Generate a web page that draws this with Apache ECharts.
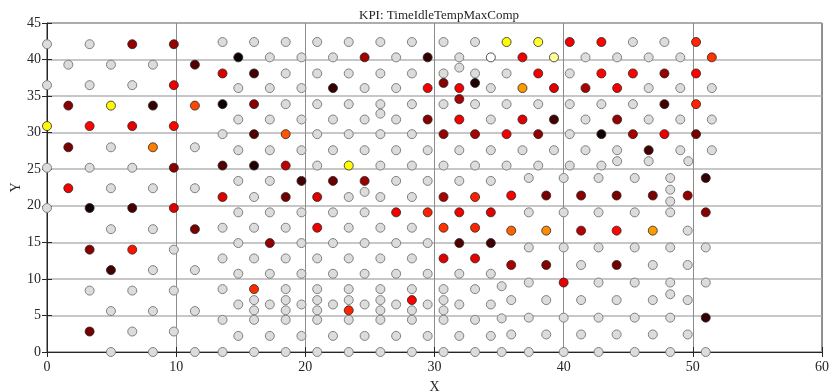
<!DOCTYPE html>
<html>
<head>
<meta charset="utf-8">
<title>KPI: TimeIdleTempMaxComp</title>
<script src="https://cdn.jsdelivr.net/npm/echarts@6.0.0/dist/echarts.min.js"></script>
<style>
  html, body { margin: 0; padding: 0; background: #fff; }
  #chart { width: 832px; height: 392px; }
</style>
</head>
<body>
<div id="chart"></div>
<script>
// grey points (no KPI value), listed per column: [x, [y, y, ...]]
var greyLeft = [
  [0, [42.1, 36.5, 25.2, 19.7]],
  [1.65, [39.3]],
  [3.3, [42.1, 36.5, 25.2, 8.4]],
  [4.95, [39.3, 28.0, 22.4, 16.8, 5.6, 0]],
  [6.6, [36.5, 25.2, 8.4, 2.8]],
  [8.2, [39.3, 22.4, 16.8, 11.2, 5.6, 0]],
  [9.82, [14.0, 8.4, 2.8]],
  [11.45, [28.0, 22.4, 11.2, 5.6, 0]]
];

var greyMid = [
  [13.59, [42.4, 29.8, 17.0, 12.8, 8.6, 4.4, 0]],
  [14.81, [36.1, 31.8, 27.6, 23.4, 19.1, 14.9, 10.7, 6.5, 2.2]],
  [16.03, [42.4, 21.2, 17.0, 12.8, 7.1, 5.7, 4.4, 0]],
  [17.25, [40.3, 36.1, 31.8, 27.6, 23.4, 19.1, 10.7, 6.5, 2.2]],
  [18.48, [42.4, 38.1, 33.9, 17.0, 12.8, 8.6, 7.1, 5.7, 4.4, 0]],
  [19.7, [40.3, 36.1, 31.8, 27.6, 19.1, 14.9, 10.7, 6.5, 2.2]],
  [20.92, [42.4, 38.1, 33.9, 29.8, 25.5, 12.8, 8.6, 7.1, 5.7, 4.4, 0]],
  [22.14, [40.3, 31.8, 27.6, 19.1, 14.9, 10.7, 6.5, 2.2]],
  [23.36, [42.4, 38.1, 33.9, 29.8, 21.2, 17.0, 12.8, 8.6, 7.1, 4.4, 0]],
  [24.59, [36.1, 31.8, 27.6, 21.9, 19.1, 14.9, 10.7, 6.5, 2.2]],
  [25.81, [42.4, 38.1, 33.9, 32.6, 29.8, 25.5, 21.2, 17.0, 12.8, 8.6, 7.1, 5.7, 4.4, 0]],
  [27.03, [40.3, 36.1, 31.8, 27.6, 23.4, 14.9, 10.7, 6.5, 2.2]],
  [28.25, [42.4, 38.1, 33.9, 29.8, 25.5, 21.2, 17.0, 12.8, 8.6, 5.7, 4.4, 0]],
  [29.47, [27.6, 23.4, 14.9, 10.7, 6.5, 2.2]],
  [30.7, [42.4, 38.1, 33.9, 25.5, 8.6, 7.1, 5.7, 4.4, 0]],
  [31.92, [40.3, 38.9, 27.6, 23.4, 10.7, 6.5, 2.2]],
  [33.14, [42.4, 38.1, 33.9, 25.5, 8.6, 4.4, 0]],
  [34.36, [36.1, 31.8, 27.6, 23.4, 10.7, 6.5, 2.2]],
  [35.58, [38.1, 33.9, 25.5]],
  [36.81, [27.6]],
  [38.03, [33.9, 25.5]],
  [39.25, [27.6]],
  [40.47, [38.1, 33.9, 29.8, 25.5]],
  [41.69, [40.3, 31.8, 27.6]],
  [42.92, [33.9, 25.5]],
  [44.14, [40.3, 27.6, 26.1]],
  [45.36, [42.4, 33.9]],
  [46.58, [40.3, 36.1, 31.8, 26.1]],
  [47.8, [42.4]],
  [49.03, [40.3, 36.1, 31.8, 27.6]],
  [49.65, [26.1]],
  [51.47, [36.1, 31.8, 27.6]]
];

var greyRight = [
  [35.2, [9.0, 4.6, 0]],
  [35.94, [7.1, 2.4]],
  [37.3, [23.8, 19.1, 14.3, 9.5, 4.7, 0]],
  [38.65, [7.1, 2.4]],
  [40.0, [23.8, 19.1, 14.3, 4.7, 0]],
  [41.35, [11.9, 7.1, 2.4]],
  [42.7, [23.8, 19.1, 14.3, 9.5, 4.7, 0]],
  [44.1, [7.1, 2.4]],
  [45.5, [23.8, 19.1, 14.3, 9.5, 4.7, 0]],
  [46.9, [11.9, 7.1, 2.4]],
  [48.25, [23.8, 22.2, 20.6, 19.1, 14.3, 9.5, 7.9, 4.7, 0]],
  [49.6, [16.6, 11.9, 7.1, 2.4]],
  [51.0, [14.3, 9.5, 0]]
];

// KPI points: [x, y, value] with value on a 0..1 "hot" scale
var kpiLeft = [
  [0, 30.9, 0.74],
  [1.65, 33.7, 0.2], [1.65, 28.0, 0.18], [1.65, 22.4, 0.36],
  [3.3, 30.9, 0.38], [3.3, 19.7, 0.03], [3.3, 14.0, 0.2], [3.3, 2.8, 0.17],
  [4.95, 33.7, 0.74], [4.95, 11.2, 0.1],
  [6.6, 42.1, 0.22], [6.6, 30.9, 0.34], [6.6, 19.7, 0.1], [6.6, 14.0, 0.4],
  [8.2, 33.7, 0.08], [8.2, 28.0, 0.56],
  [9.82, 42.1, 0.22], [9.82, 36.5, 0.35], [9.82, 30.9, 0.38], [9.82, 25.2, 0.2], [9.82, 19.7, 0.33],
  [11.45, 39.3, 0.12], [11.45, 33.7, 0.48], [11.45, 16.8, 0.18]
];

var kpiMid = [
  [13.59, 38.1, 0.32], [13.59, 33.9, 0.02], [13.59, 25.5, 0.12], [13.59, 21.2, 0.33],
  [14.81, 40.3, 0.02],
  [16.03, 38.1, 0.1], [16.03, 33.9, 0.2], [16.03, 29.8, 0.12], [16.03, 25.5, 0.05], [16.03, 8.6, 0.44],
  [17.25, 14.9, 0.22],
  [18.48, 29.8, 0.5], [18.48, 25.5, 0.28], [18.48, 21.2, 0.17],
  [19.7, 23.4, 0.1],
  [20.92, 21.2, 0.33], [20.92, 17.0, 0.35],
  [22.14, 36.1, 0.08], [22.14, 23.4, 0.16],
  [23.36, 25.5, 0.75], [23.36, 5.7, 0.43],
  [24.59, 40.3, 0.24], [24.59, 23.4, 0.22],
  [27.03, 19.1, 0.36],
  [28.25, 7.1, 0.37],
  [29.47, 40.3, 0.08], [29.47, 36.1, 0.36], [29.47, 31.8, 0.2], [29.47, 19.1, 0.42],
  [30.7, 36.8, 0.2], [30.7, 29.8, 0.22], [30.7, 21.2, 0.25], [30.7, 17.0, 0.45], [30.7, 12.8, 0.33],
  [31.92, 36.1, 0.36], [31.92, 34.6, 0.25], [31.92, 31.8, 0.36], [31.92, 19.1, 0.36], [31.92, 14.9, 0.12],
  [33.14, 36.8, 0.05], [33.14, 29.8, 0.25], [33.14, 21.2, 0.42], [33.14, 17.0, 0.43], [33.14, 12.8, 0.34],
  [34.36, 40.3, 1.0], [34.36, 19.1, 0.34], [34.36, 14.9, 0.1],
  [35.58, 42.4, 0.75], [35.58, 29.8, 0.36],
  [36.81, 40.3, 0.36], [36.81, 36.1, 0.6], [36.81, 31.8, 0.33],
  [38.03, 42.4, 0.8], [38.03, 38.1, 0.36], [38.03, 29.8, 0.22],
  [39.25, 40.3, 0.9], [39.25, 36.1, 0.33], [39.25, 31.8, 0.1],
  [40.47, 42.4, 0.36],
  [41.69, 36.1, 0.25],
  [42.92, 42.4, 0.38], [42.92, 38.1, 0.38], [42.92, 29.8, 0.03],
  [44.14, 36.1, 0.36], [44.14, 31.8, 0.22],
  [45.36, 38.1, 0.38], [45.36, 29.8, 0.25],
  [46.58, 27.6, 0.1],
  [47.8, 38.1, 0.22], [47.8, 33.9, 0.1], [47.8, 29.8, 0.35],
  [50.25, 42.4, 0.43], [50.25, 38.1, 0.38], [50.25, 33.9, 0.43], [50.25, 29.8, 0.18],
  [51.47, 40.3, 0.45]
];

var kpiRight = [
  [35.94, 21.4, 0.37], [35.94, 16.6, 0.52], [35.94, 11.9, 0.25],
  [38.65, 21.4, 0.18], [38.65, 16.6, 0.58], [38.65, 11.9, 0.2],
  [40.0, 9.5, 0.34],
  [41.35, 21.4, 0.2], [41.35, 16.6, 0.27],
  [44.1, 21.4, 0.18], [44.1, 16.6, 0.38], [44.1, 11.9, 0.17],
  [46.9, 21.4, 0.18], [46.9, 16.6, 0.6],
  [49.6, 21.4, 0.22],
  [51.0, 23.8, 0.08], [51.0, 19.1, 0.2], [51.0, 4.7, 0.08]
];

var hotColors = ['#000000', '#550000', '#aa0000', '#ff0000', '#ff5500', '#ffaa00', '#ffff00', '#ffff80', '#ffffff'];

function flattenColumns(cols) {
  var out = [];
  cols.forEach(function (c) {
    c[1].forEach(function (y) { out.push([c[0], y]); });
  });
  return out;
}

var greyData = flattenColumns(greyLeft).concat(flattenColumns(greyMid), flattenColumns(greyRight));
var kpiData = kpiLeft.concat(kpiMid, kpiRight);

var serif = 'Liberation Serif';
var textColor = '#262626';

var myChart = echarts.init(document.getElementById('chart'), null, { renderer: 'canvas' });

var option = {
  animation: false,
  backgroundColor: '#ffffff',
  title: {
    text: 'KPI: TimeIdleTempMaxComp',
    left: 434,
    textAlign: 'center',
    top: 4,
    textStyle: { fontFamily: serif, fontWeight: 'normal', fontSize: 13, color: textColor }
  },
  grid: {
    left: 47, right: 10, top: 23, bottom: 40,
    outerBoundsMode: 'none',
    containLabel: false,
    show: true, borderColor: '#262626', borderWidth: 1, backgroundColor: 'transparent'
  },
  visualMap: {
    show: false,
    type: 'continuous',
    seriesIndex: 1,
    dimension: 2,
    min: 0,
    max: 1,
    inRange: { color: hotColors }
  },
  xAxis: [{
    type: 'value', min: 0, max: 60, interval: 10,
    name: 'X', nameLocation: 'middle', nameGap: 28, nameMoveOverlap: false,
    nameTextStyle: { fontFamily: serif, fontSize: 14, color: textColor },
    axisLine: { show: true, lineStyle: { color: '#262626' } },
    axisTick: { show: true, inside: true, length: 5, lineStyle: { color: '#262626' } },
    axisLabel: { fontFamily: serif, fontSize: 14, color: textColor, margin: 8 },
    splitLine: { show: true, lineStyle: { color: '#8c8c8c', width: 1 } }
  }, {
    type: 'value', min: 0, max: 60, interval: 10, position: 'top',
    axisLine: { show: false },
    axisTick: { show: true, inside: true, length: 5, lineStyle: { color: '#262626' } },
    axisLabel: { show: false },
    splitLine: { show: false }
  }],
  yAxis: [{
    type: 'value', min: 0, max: 45, interval: 5,
    name: 'Y', nameLocation: 'middle', nameGap: 24, nameRotate: 90, nameMoveOverlap: false,
    nameTextStyle: { fontFamily: serif, fontSize: 14, color: textColor },
    axisLine: { show: true, lineStyle: { color: '#262626' } },
    axisTick: { show: true, inside: true, length: 5, lineStyle: { color: '#262626' } },
    axisLabel: { fontFamily: serif, fontSize: 14, color: textColor, margin: 6 },
    splitLine: { show: true, lineStyle: { color: '#b4b4b4', width: 1.5 } }
  }, {
    type: 'value', min: 0, max: 45, interval: 5, position: 'right',
    axisLine: { show: false },
    axisTick: { show: true, inside: true, length: 5, lineStyle: { color: '#262626' } },
    axisLabel: { show: false },
    splitLine: { show: false }
  }],
  series: [{
    name: 'no value',
    type: 'scatter',
    clip: false,
    symbol: 'circle',
    symbolSize: 9,
    itemStyle: { color: '#dcdcdc', borderColor: '#808080', borderWidth: 1, opacity: 1 },
    data: greyData,
    z: 2
  }, {
    name: 'KPI',
    type: 'scatter',
    clip: false,
    symbol: 'circle',
    symbolSize: 9,
    itemStyle: { borderColor: '#262626', borderWidth: 0.8, opacity: 1 },
    data: kpiData,
    z: 3
  }]
};

myChart.setOption(option);
</script>
</body>
</html>
